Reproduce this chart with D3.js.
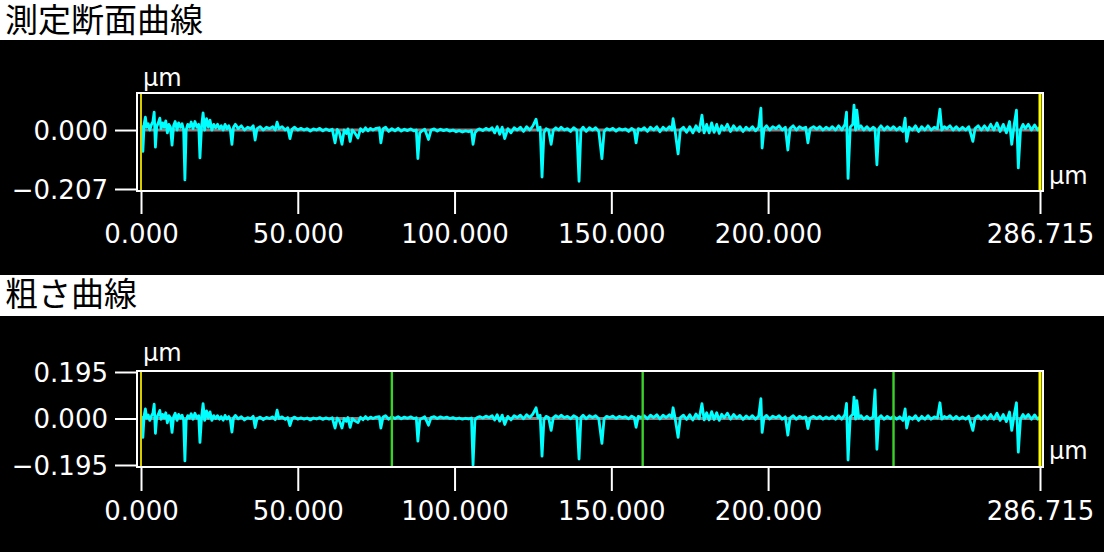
<!DOCTYPE html>
<html><head><meta charset="utf-8">
<script src="https://cdn.jsdelivr.net/npm/d3@7"></script>
<style>html,body{margin:0;padding:0;background:#fff;overflow:hidden}svg{display:block}</style>
</head><body><svg id="c" width="1104" height="552"></svg>
<script>
// ---------------- data ----------------
const panelTitles = ["測定断面曲線", "粗さ曲線"];
const unitLabel = "μm";
const xTickValues = [0, 50, 100, 150, 200, 286.715];
const xTickLabels = ["0.000", "50.000", "100.000", "150.000", "200.000", "286.715"];
const yTicksMeasured = [0, -0.207];
const yLabelsMeasured = ["0.000", "\u22120.207"];
const measuredTop = 0.130;
const yTicksRough = [0.195, 0, -0.195];
const yLabelsRough = ["0.195", "0.000", "\u22120.195"];
const evalBounds = [0, 286.715];
const cutoffMarks = [80, 160, 240];
const meanLine = [0, 0];

const profileX = [
0.0,0.3,0.6,1.0,1.4,1.8,2.3,2.8,3.3,3.8,
4.2,4.6,5.0,5.5,6.0,6.4,6.9,7.4,7.9,8.4,
8.9,9.4,9.9,10.4,10.9,11.5,12.0,12.6,13.1,13.6,
14.0,14.4,14.9,15.5,16.0,16.6,17.2,17.8,18.4,18.8,
19.3,19.8,20.3,20.9,21.5,22.0,22.6,23.2,23.8,24.4,
25.0,25.6,26.2,26.8,27.4,28.0,28.5,29.0,29.5,30.1,
31.0,32.0,33.0,34.0,35.0,35.8,36.4,37.0,38.0,39.0,
40.0,41.0,42.0,42.8,43.4,44.0,45.0,46.0,46.8,47.5,
48.2,49.0,50.0,51.0,52.0,53.0,54.0,55.0,56.0,57.0,
58.0,59.0,60.0,61.0,61.9,62.6,63.3,64.1,64.8,65.5,
66.0,66.7,67.4,68.2,69.2,70.0,70.8,71.6,72.4,73.2,
74.0,75.0,76.0,76.5,77.2,78.0,79.0,80.0,81.0,82.0,
83.0,84.0,85.0,86.0,87.0,87.8,88.3,88.9,89.5,90.5,
91.7,92.5,93.5,94.5,95.5,96.5,97.5,98.5,99.5,100.5,
101.5,102.5,103.5,104.5,105.4,105.9,106.5,107.2,108.0,109.0,
110.0,111.0,112.0,112.8,113.6,114.4,115.2,116.0,117.0,118.0,
119.0,120.0,121.0,122.0,123.0,124.0,125.0,126.0,126.6,127.3,
127.9,128.5,129.2,130.0,130.8,131.5,132.3,133.2,134.0,135.0,
136.0,137.0,138.0,139.0,139.7,140.3,141.0,142.0,143.0,144.0,
145.0,146.0,147.0,147.7,148.5,149.5,150.5,151.5,152.5,153.5,
154.5,155.5,156.5,157.3,157.9,158.6,159.5,160.5,161.5,162.5,
163.5,164.5,165.5,166.5,167.5,168.5,169.3,169.7,170.3,171.3,
172.0,173.0,174.0,175.0,176.0,177.0,178.0,178.9,179.6,180.4,
181.2,182.0,182.8,183.6,184.4,185.2,186.0,187.0,188.0,189.0,
190.0,191.0,192.0,193.0,194.0,195.0,196.0,197.0,197.7,198.1,
198.7,199.5,200.5,201.5,202.5,203.5,204.5,205.5,206.3,207.0,
208.0,209.0,210.0,211.0,212.0,212.7,213.4,214.5,215.5,216.5,
217.5,218.5,219.5,220.5,221.5,222.5,223.5,224.5,225.0,225.5,
226.2,227.0,227.4,227.9,228.3,228.9,229.6,230.5,231.5,232.5,
233.5,234.1,234.7,235.3,236.0,237.0,238.0,239.0,240.0,241.0,
242.0,243.0,243.7,244.2,245.0,246.0,247.0,248.0,249.0,250.0,
251.0,252.0,253.0,254.0,254.8,255.4,256.2,257.0,258.0,259.0,
260.0,261.0,262.0,263.0,264.0,265.3,266.0,267.0,268.0,269.0,
270.0,271.0,272.0,273.0,274.0,275.0,276.0,277.0,277.7,278.5,
279.2,279.8,280.5,281.3,282.0,283.0,284.0,285.0,286.0,286.7
];

const measuredZ = [
.005,.012,-.075,.02,.045,.01,.022,0,.018,.03,
.063,-.06,.012,.025,.042,.005,.025,.01,.032,-.01,
.02,.01,-.053,.015,.03,0,.025,.01,.022,0,
-.175,0,.02,.01,.028,.005,.03,.01,.02,-.098,
.01,.06,0,.04,.01,.035,0,.02,.008,.02,
.005,.015,0,.02,.005,.015,0,-.05,.01,.02,
.005,.015,0,.01,.005,.015,-.035,.005,.012,0,
.01,.005,.012,0,.028,.005,.012,0,.008,-.03,
.003,.01,0,.006,0,.005,-.004,.004,0,.006,
-.003,.004,-.002,.003,-.045,.002,-.01,-.05,0,-.012,
.004,-.04,0,-.01,-.028,.005,-.005,.008,-.003,.006,
0,.006,.008,-.045,.005,.01,-.005,.005,-.003,.006,
-.004,.003,-.002,.004,-.003,0,-.1,-.01,-.004,.003,
-.033,0,.004,-.004,.003,-.002,.002,-.004,0,-.006,
-.002,-.007,-.003,-.006,-.002,-.05,-.01,0,.004,-.002,
.006,0,.008,-.01,.012,-.015,.01,-.03,.005,-.01,
.008,0,.01,-.005,.012,0,.015,.038,0,.01,
-.165,-.01,.005,0,-.05,0,.008,0,.01,0,
.005,-.005,.008,0,-.18,0,.01,-.005,.008,0,
.008,-.005,-.1,-.005,.005,0,.006,-.004,.005,0,
.004,-.005,.006,0,-.045,.005,0,.008,-.005,.01,
0,.012,-.006,.01,0,.012,0,.04,0,-.084,
0,.01,-.008,.012,-.01,.015,-.005,.052,-.01,.02,
-.01,.025,-.008,.02,-.012,.015,0,.02,-.005,.015,
0,.012,-.005,.01,0,.012,-.003,.01,.077,-.063,
.005,.015,0,.012,.005,.015,0,.01,-.07,.005,
.015,0,.012,.005,.01,-.045,.005,.012,.003,.012,
0,.01,.002,.012,0,.015,0,.02,.063,-.17,
.01,.02,.087,0,.07,.005,.015,0,.012,0,
.01,.005,-.122,.005,.015,0,.012,.002,.012,0,
.01,-.005,.042,-.04,.01,0,.015,-.005,.012,0,
.015,0,.01,.005,.073,0,.012,.005,.015,0,
.012,0,.01,0,.012,-.04,.005,.015,0,.015,
0,.02,0,.025,-.005,.02,-.01,.03,-.05,.02,
.07,-.133,0,.02,.005,.02,0,.018,0,.01
];

const roughnessZ = [
0,.005,-.079,.012,.04,.002,.015,-.008,.01,.022,
.06,-.062,.004,.017,.034,-.003,.017,.002,.024,-.018,
.012,.002,-.058,.007,.022,-.008,.017,.002,.014,-.008,
-.178,-.008,.012,.002,.02,-.003,.022,.002,.012,-.1,
.002,.062,-.008,.032,.002,.028,-.008,.012,0,.012,
-.003,.008,-.007,.013,-.002,.008,-.007,-.057,.003,.013,
-.002,.008,-.006,.004,-.001,.009,-.038,-.001,.006,-.005,
.005,0,.007,-.005,.035,0,.007,-.004,.004,-.03,
0,.006,-.003,.003,-.003,.002,-.006,.002,-.002,.004,
-.004,.003,-.003,.003,-.04,.002,-.01,-.04,0,-.012,
.004,-.037,0,-.01,-.017,.005,-.005,.008,-.003,.006,
0,.006,.008,-.04,.006,.012,-.003,.007,0,.008,
-.001,.006,.001,.007,0,.003,-.095,-.006,0,.007,
-.028,.004,.008,0,.007,.002,.006,0,.004,-.002,
.002,-.003,.001,-.002,.002,-.195,-.006,.004,.008,.002,
.01,.004,.012,-.006,.016,-.011,.014,-.025,.009,-.006,
.012,.004,.014,-.001,.016,.004,.019,.045,.004,.014,
-.158,-.006,.009,.004,-.05,.004,.012,.004,.014,.004,
.009,-.001,.012,.004,-.17,.004,.014,-.001,.012,.004,
.012,-.001,-.104,-.001,.009,.004,.01,0,.009,.004,
.008,-.001,.01,.004,-.037,.009,.004,.012,-.001,.014,
.004,.016,-.002,.014,.004,.016,.004,.045,.004,-.079,
.004,.014,-.004,.016,-.006,.019,-.001,.062,-.006,.024,
-.006,.029,-.004,.024,-.008,.018,.003,.022,-.003,.017,
.002,.013,-.004,.011,0,.012,-.003,.01,.083,-.058,
.004,.013,-.002,.01,.003,.012,-.003,.007,-.07,.002,
.012,-.003,.009,.002,.007,-.042,.002,.009,0,.009,
-.003,.007,-.001,.009,-.003,.012,-.003,.017,.063,-.174,
.007,.017,.09,-.003,.075,.002,.012,-.003,.009,-.003,
.007,.12,-.129,.002,.012,-.003,.009,-.001,.009,-.003,
.007,-.008,.04,-.04,.007,-.003,.012,-.008,.009,-.003,
.012,-.003,.007,.002,.066,-.003,.009,.002,.012,-.003,
.009,-.003,.007,-.003,.009,-.05,.002,.012,-.003,.012,
-.003,.017,-.003,.022,-.008,.017,-.013,.027,-.05,.017,
.066,-.141,-.003,.017,.002,.017,-.003,.015,-.003,.007
];

// ---------------- drawing ----------------
const W = 1104, H = 552;
const NUM_FONT = "'DejaVu Sans', sans-serif";
const JP_FONT = "'Noto Sans CJK JP', sans-serif";
const svg = d3.select("#c");
svg.append("rect").attr("width", W).attr("height", H).attr("fill", "#fff");

const x = d3.scaleLinear().domain([0, 286.715]).range([141, 1040]);
const boxLeft = 137, boxRight = 1043;

const panels = [
  { title: panelTitles[0], titleY: 32, bgTop: 40, bgBottom: 275, boxTop: 93, boxBottom: 191,
    yDomain: [yTicksMeasured[1], measuredTop], yRange: [189, 93],
    yTicks: yTicksMeasured, yLabels: yLabelsMeasured, series: measuredZ, cutoffs: [],
    unitTopY: 86, unitRightY: 184, tickLen: 23 },
  { title: panelTitles[1], titleY: 306, bgTop: 316, bgBottom: 552, boxTop: 371, boxBottom: 467,
    yDomain: [yTicksRough[2], yTicksRough[0]], yRange: [465, 372],
    yTicks: yTicksRough, yLabels: yLabelsRough, series: roughnessZ, cutoffs: cutoffMarks,
    unitTopY: 361, unitRightY: 459, tickLen: 24 }
];

panels.forEach((p, pi) => {
  const y = d3.scaleLinear().domain(p.yDomain).range(p.yRange);
  const g = svg.append("g");

  g.append("text").attr("x", 5).attr("y", p.titleY)
    .attr("font-family", JP_FONT).attr("font-size", 33).attr("fill", "#000").text(p.title);

  g.append("rect").attr("x", 0).attr("y", p.bgTop).attr("width", W)
    .attr("height", p.bgBottom - p.bgTop).attr("fill", "#000");

  const clipId = "clip" + pi;
  svg.append("clipPath").attr("id", clipId).append("rect")
    .attr("x", boxLeft + 1).attr("y", p.boxTop + 1)
    .attr("width", boxRight - boxLeft - 2).attr("height", p.boxBottom - p.boxTop - 2);

  const plot = g.append("g").attr("clip-path", `url(#${clipId})`);
  plot.append("line")
    .attr("x1", x(evalBounds[0])).attr("x2", x(evalBounds[1]))
    .attr("y1", y(meanLine[0])).attr("y2", y(meanLine[1]))
    .attr("stroke", "#8a7c7c").attr("stroke-width", 3);

  const pts = profileX.map((d, i) => [d, p.series[i]]);
  const line = d3.line().x(d => x(d[0])).y(d => y(d[1]));
  plot.append("path").datum(pts).attr("d", line)
    .attr("fill", "none").attr("stroke", "#00ffff").attr("stroke-width", 2.8)
    .attr("stroke-linejoin", "round");

  plot.selectAll(".cut").data(p.cutoffs).join("line")
    .attr("x1", d => x(d)).attr("x2", d => x(d))
    .attr("y1", p.boxTop + 1).attr("y2", p.boxBottom - 1)
    .attr("stroke", "#3ad22a").attr("stroke-width", 2.4);

  plot.append("line").attr("x1", x(evalBounds[0])).attr("x2", x(evalBounds[0]))
    .attr("y1", p.boxTop + 1).attr("y2", p.boxBottom - 1)
    .attr("stroke", "#d8cc00").attr("stroke-width", 2);
  plot.append("line").attr("x1", x(evalBounds[1])).attr("x2", x(evalBounds[1]))
    .attr("y1", p.boxTop + 1).attr("y2", p.boxBottom - 1)
    .attr("stroke", "#ffff00").attr("stroke-width", 3);

  g.append("rect").attr("x", boxLeft).attr("y", p.boxTop)
    .attr("width", boxRight - boxLeft).attr("height", p.boxBottom - p.boxTop)
    .attr("fill", "none").attr("stroke", "#fff").attr("stroke-width", 2);

  const yAxis = d3.axisLeft(y).tickValues(p.yTicks)
    .tickFormat((d, i) => p.yLabels[i]).tickSize(22).tickPadding(7);
  const ya = g.append("g").attr("transform", `translate(${boxLeft},0)`).call(yAxis);
  ya.select(".domain").remove();
  ya.selectAll(".tick line").attr("stroke", "#fff").attr("stroke-width", 2);
  ya.selectAll(".tick text").attr("fill", "#fff").attr("font-family", NUM_FONT)
    .attr("font-size", 26).attr("dy", "0.36em");

  const xAxis = d3.axisBottom(x).tickValues(xTickValues)
    .tickFormat((d, i) => xTickLabels[i]).tickSize(p.tickLen).tickPadding(9);
  const xa = g.append("g").attr("transform", `translate(0,${p.boxBottom})`).call(xAxis);
  xa.select(".domain").remove();
  xa.selectAll(".tick line").attr("stroke", "#fff").attr("stroke-width", 2);
  xa.selectAll(".tick text").attr("fill", "#fff").attr("font-family", NUM_FONT)
    .attr("font-size", 26).attr("dy", "0.75em");

  g.append("text").attr("x", 143).attr("y", p.unitTopY).attr("fill", "#fff")
    .attr("font-family", NUM_FONT).attr("font-size", 24).text(unitLabel);
  g.append("text").attr("x", 1049).attr("y", p.unitRightY).attr("fill", "#fff")
    .attr("font-family", NUM_FONT).attr("font-size", 24).text(unitLabel);
});
</script>
</body></html>
